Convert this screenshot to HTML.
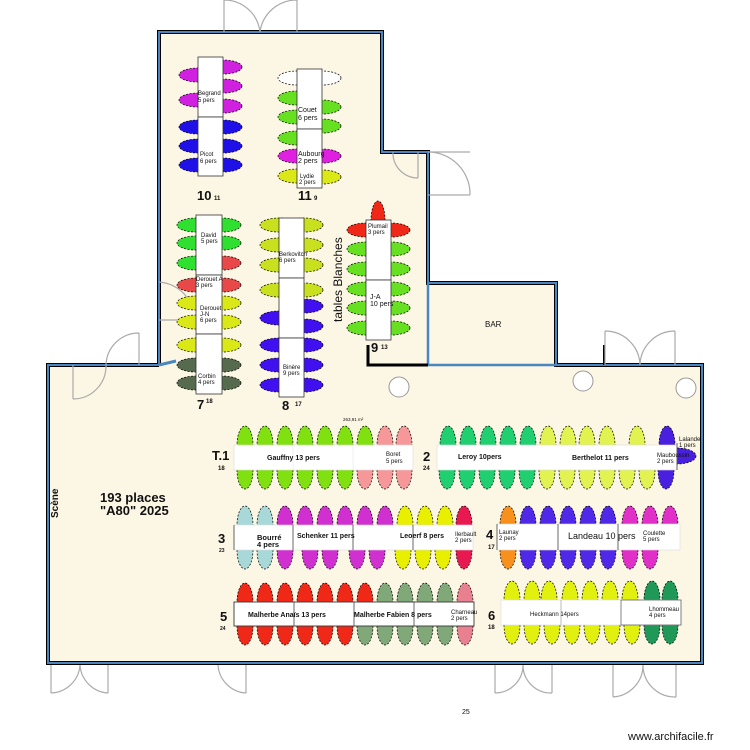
<!DOCTYPE html>
<html><head><meta charset="utf-8"><style>
html,body{margin:0;padding:0;background:#fff}
svg{display:block}
text{font-family:"Liberation Sans",sans-serif;fill:#111}
.c{stroke:#000;stroke-width:.7;stroke-dasharray:2 1.5}
.t{fill:#fff;stroke:#333;stroke-width:.8}
.d{fill:none;stroke:#aaa;stroke-width:1.2}
.s{font-size:6px}
.m{font-size:8px}
.b{font-weight:bold}
</style></head><body>
<svg width="750" height="750" viewBox="0 0 750 750" xmlns="http://www.w3.org/2000/svg">
<!-- floor -->
<polygon points="159,32 382,32 382,152 428,152 428,283 556,283 556,365 702,365 702,663 48,663 48,365 159,365" fill="#fcf6e4"/>
<!-- walls -->
<g fill="none" stroke-linejoin="miter">
<polyline points="159,365 159,32 382,32 382,152 428,152 428,283 556,283 556,365 702,365 702,663 48,663 48,365 159,365" stroke="#000" stroke-width="4"/>
<polyline points="159,365 159,32 382,32 382,152 428,152 428,283 556,283 556,365 702,365 702,663 48,663 48,365 159,365" stroke="#4a86c0" stroke-width="2"/>
<line x1="428" y1="365" x2="556" y2="365" stroke="#4a86c0" stroke-width="2.5"/>
<line x1="428" y1="283" x2="428" y2="365" stroke="#4a86c0" stroke-width="2.5"/>
<polyline points="368,345 368,365 428,365" stroke="#000" stroke-width="3"/>
<line x1="604" y1="345" x2="604" y2="365" stroke="#000" stroke-width="2"/>
<line x1="159" y1="365" x2="176" y2="361" stroke="#4a86c0" stroke-width="3"/>
</g>
<!-- pillars -->
<g fill="#fff" stroke="#999" stroke-width="1"><circle cx="399" cy="387" r="10"/><circle cx="583" cy="381" r="10"/><circle cx="686" cy="388" r="10"/></g>
<!-- doors -->
<g class="d">
<path d="M224,32 V0 M224,0 A36,36 0 0 1 260,32 M297,32 V0 M297,0 A37,37 0 0 0 260,32"/>
<path d="M428,152 H470 M470,195 H428 M470,195 A42,42 0 0 0 428,152"/>
<path d="M418,152 V178 M393,152 A25,25 0 0 0 418,178"/>
<path d="M139,333 V365 M139,333 A33,33 0 0 0 106,365 M73,399 V365 M73,399 A33,33 0 0 0 106,365"/>
<path d="M159,282 A38,38 0 0 1 190,302 M159,320 H190"/>
<path d="M605,331 V365 M605,331 A35,35 0 0 1 640,365 M675,331 V365 M675,331 A35,35 0 0 0 640,365"/>
<path d="M51,665 V693 M51,693 A30,30 0 0 0 80,665 M108,665 V693 M108,693 A30,30 0 0 1 80,665"/>
<path d="M246,665 V693 M246,693 A30,30 0 0 1 218,665"/>
<path d="M495,665 V693 M495,693 A28,28 0 0 0 523,665 M552,665 V693 M552,693 A28,28 0 0 1 523,665"/>
<path d="M613,665 V697 M613,697 A32,32 0 0 0 643,665 M676,665 V697 M676,697 A32,32 0 0 1 643,665"/>
</g>

<!-- Upper-wing chairs -->
<g class="c">
<!-- table 10 -->
<g fill="#d020e0"><ellipse cx="198" cy="75" rx="19" ry="7"/><ellipse cx="198" cy="100" rx="19" ry="7"/><ellipse cx="223" cy="67" rx="19" ry="7"/><ellipse cx="223" cy="86" rx="19" ry="7"/><ellipse cx="223" cy="106" rx="19" ry="7"/></g>
<g fill="#2010e8"><ellipse cx="198" cy="127" rx="19" ry="7"/><ellipse cx="198" cy="146" rx="19" ry="7"/><ellipse cx="198" cy="165" rx="19" ry="7"/><ellipse cx="223" cy="127" rx="19" ry="7"/><ellipse cx="223" cy="146" rx="19" ry="7"/><ellipse cx="223" cy="165" rx="19" ry="7"/></g>
<!-- table 11 -->
<g fill="#fff"><ellipse cx="297" cy="78" rx="19" ry="7"/><ellipse cx="322" cy="78" rx="19" ry="7"/></g>
<g fill="#66e020"><ellipse cx="297" cy="98" rx="19" ry="7"/><ellipse cx="297" cy="117" rx="19" ry="7"/><ellipse cx="297" cy="138" rx="19" ry="7"/><ellipse cx="322" cy="107" rx="19" ry="7"/><ellipse cx="322" cy="126" rx="19" ry="7"/></g>
<g fill="#e020e0"><ellipse cx="297" cy="156" rx="19" ry="7"/><ellipse cx="322" cy="156" rx="19" ry="7"/></g>
<g fill="#dbe818"><ellipse cx="297" cy="176" rx="19" ry="7"/><ellipse cx="322" cy="177" rx="19" ry="7"/></g>
<!-- table 7 -->
<g fill="#30e030"><ellipse cx="196" cy="225" rx="19" ry="7"/><ellipse cx="196" cy="243" rx="19" ry="7"/><ellipse cx="196" cy="263" rx="19" ry="7"/><ellipse cx="222" cy="225" rx="19" ry="7"/><ellipse cx="222" cy="243" rx="19" ry="7"/></g>
<g fill="#e84848"><ellipse cx="222" cy="263" rx="19" ry="7"/><ellipse cx="196" cy="285" rx="19" ry="7"/><ellipse cx="222" cy="285" rx="19" ry="7"/></g>
<g fill="#dbe818"><ellipse cx="196" cy="303" rx="19" ry="7"/><ellipse cx="196" cy="322" rx="19" ry="7"/><ellipse cx="222" cy="303" rx="19" ry="7"/><ellipse cx="222" cy="322" rx="19" ry="7"/><ellipse cx="196" cy="345" rx="19" ry="7"/><ellipse cx="222" cy="345" rx="19" ry="7"/></g>
<g fill="#566b4e"><ellipse cx="196" cy="365" rx="19" ry="7"/><ellipse cx="196" cy="383" rx="19" ry="7"/><ellipse cx="222" cy="365" rx="19" ry="7"/><ellipse cx="222" cy="383" rx="19" ry="7"/></g>
<!-- table 8 -->
<g fill="#c8e01e"><ellipse cx="279" cy="225" rx="19" ry="7"/><ellipse cx="279" cy="245" rx="19" ry="7"/><ellipse cx="279" cy="265" rx="19" ry="7"/><ellipse cx="279" cy="290" rx="19" ry="7"/><ellipse cx="304" cy="225" rx="19" ry="7"/><ellipse cx="304" cy="245" rx="19" ry="7"/><ellipse cx="304" cy="265" rx="19" ry="7"/><ellipse cx="304" cy="290" rx="19" ry="7"/></g>
<g fill="#4010f0"><ellipse cx="279" cy="318" rx="19" ry="7"/><ellipse cx="304" cy="306" rx="19" ry="7"/><ellipse cx="304" cy="326" rx="19" ry="7"/><ellipse cx="279" cy="345" rx="19" ry="7"/><ellipse cx="279" cy="365" rx="19" ry="7"/><ellipse cx="279" cy="385" rx="19" ry="7"/><ellipse cx="304" cy="345" rx="19" ry="7"/><ellipse cx="304" cy="365" rx="19" ry="7"/><ellipse cx="304" cy="385" rx="19" ry="7"/></g>
<!-- table 9 -->
<g fill="#f02818"><ellipse cx="378" cy="220" rx="7" ry="19"/><ellipse cx="366" cy="230" rx="19" ry="7"/><ellipse cx="391" cy="230" rx="19" ry="7"/></g>
<g fill="#66e020"><ellipse cx="366" cy="249" rx="19" ry="7"/><ellipse cx="366" cy="269" rx="19" ry="7"/><ellipse cx="366" cy="289" rx="19" ry="7"/><ellipse cx="366" cy="308" rx="19" ry="7"/><ellipse cx="366" cy="328" rx="19" ry="7"/><ellipse cx="391" cy="249" rx="19" ry="7"/><ellipse cx="391" cy="269" rx="19" ry="7"/><ellipse cx="391" cy="289" rx="19" ry="7"/><ellipse cx="391" cy="308" rx="19" ry="7"/><ellipse cx="391" cy="328" rx="19" ry="7"/></g>
</g>
<!-- upper tables -->
<rect class="t" x="198" y="57" width="25" height="60"/><rect class="t" x="198" y="117" width="25" height="59"/>
<rect class="t" x="297" y="69" width="25" height="60"/><rect class="t" x="297" y="129" width="25" height="59"/>
<rect class="t" x="196" y="215" width="26" height="60"/><rect class="t" x="196" y="275" width="26" height="59"/><rect class="t" x="196" y="334" width="26" height="60"/>
<rect class="t" x="279" y="218" width="25" height="60"/><rect class="t" x="279" y="278" width="25" height="60"/><rect class="t" x="279" y="338" width="25" height="59"/>
<rect class="t" x="366" y="220" width="25" height="60"/><rect class="t" x="366" y="280" width="25" height="60"/>
<g class="s">
<text x="198" y="95">Begrand</text><text x="198" y="102">5 pers</text>
<text x="200" y="156">Picot</text><text x="200" y="163">6 pers</text>
<text x="298" y="112" class="m" style="font-size:7px">Couet</text><text x="298" y="120" style="font-size:7px">6 pers</text>
<text x="298" y="156" style="font-size:7px">Aubourg</text><text x="298" y="163" style="font-size:7px">2 pers</text>
<text x="300" y="178">Lydie</text><text x="299" y="184">2 pers</text>
<text x="201" y="237">David</text><text x="201" y="243">5 pers</text>
<text x="196" y="281">Derouet A</text><text x="196" y="287">3 pers</text>
<text x="200" y="310">Derouet</text><text x="200" y="316">J-N</text><text x="200" y="322">6 pers</text>
<text x="198" y="378">Corbin</text><text x="198" y="384">4 pers</text>
<text x="279" y="256">Berkovitch</text><text x="279" y="262">6 pers</text>
<text x="283" y="369">Binère</text><text x="283" y="375">9 pers</text>
<text x="368" y="228">Plumail</text><text x="368" y="234">3 pers</text>
<text x="370" y="299" style="font-size:7px">J-A</text><text x="370" y="306" style="font-size:7px">10 pers</text>
</g>
<g class="b">
<text x="197" y="200" font-size="13">10</text><text x="214" y="200" font-size="6">11</text>
<text x="298" y="200" font-size="13">11</text><text x="314" y="200" font-size="6">9</text>
<text x="197" y="409" font-size="13">7</text><text x="206" y="403" font-size="6">18</text>
<text x="282" y="410" font-size="13">8</text><text x="295" y="406" font-size="6">17</text>
<text x="371" y="352" font-size="13">9</text><text x="381" y="349" font-size="6">13</text>
</g>
<text transform="translate(342,322) rotate(-90)" font-size="12">tables Blanches</text>
<text x="485" y="327" font-size="8">BAR</text>
<text x="343" y="421" font-size="4.5" fill="#555">263,91 m²</text>

<!-- Main room chairs -->
<g class="c">
<!-- T.1 -->
<g fill="#80e010"><ellipse cx="245" cy="445" rx="8" ry="19"/><ellipse cx="265" cy="445" rx="8" ry="19"/><ellipse cx="285" cy="445" rx="8" ry="19"/><ellipse cx="305" cy="445" rx="8" ry="19"/><ellipse cx="325" cy="445" rx="8" ry="19"/><ellipse cx="345" cy="445" rx="8" ry="19"/><ellipse cx="365" cy="445" rx="8" ry="19"/>
<ellipse cx="245" cy="470" rx="8" ry="19"/><ellipse cx="265" cy="470" rx="8" ry="19"/><ellipse cx="285" cy="470" rx="8" ry="19"/><ellipse cx="305" cy="470" rx="8" ry="19"/><ellipse cx="325" cy="470" rx="8" ry="19"/><ellipse cx="345" cy="470" rx="8" ry="19"/></g>
<g fill="#f6989a"><ellipse cx="385" cy="445" rx="8" ry="19"/><ellipse cx="404" cy="445" rx="8" ry="19"/><ellipse cx="365" cy="470" rx="8" ry="19"/><ellipse cx="385" cy="470" rx="8" ry="19"/><ellipse cx="404" cy="470" rx="8" ry="19"/></g>
<!-- T.2 -->
<g fill="#20d070"><ellipse cx="448" cy="445" rx="8" ry="19"/><ellipse cx="468" cy="445" rx="8" ry="19"/><ellipse cx="488" cy="445" rx="8" ry="19"/><ellipse cx="508" cy="445" rx="8" ry="19"/><ellipse cx="528" cy="445" rx="8" ry="19"/>
<ellipse cx="447" cy="470" rx="8" ry="19"/><ellipse cx="467" cy="470" rx="8" ry="19"/><ellipse cx="487" cy="470" rx="8" ry="19"/><ellipse cx="507" cy="470" rx="8" ry="19"/><ellipse cx="527" cy="470" rx="8" ry="19"/></g>
<g fill="#e2f250"><ellipse cx="548" cy="445" rx="8" ry="19"/><ellipse cx="568" cy="445" rx="8" ry="19"/><ellipse cx="587" cy="445" rx="8" ry="19"/><ellipse cx="607" cy="445" rx="8" ry="19"/><ellipse cx="637" cy="445" rx="8" ry="19"/>
<ellipse cx="547" cy="470" rx="8" ry="19"/><ellipse cx="567" cy="470" rx="8" ry="19"/><ellipse cx="587" cy="470" rx="8" ry="19"/><ellipse cx="607" cy="470" rx="8" ry="19"/><ellipse cx="627" cy="470" rx="8" ry="19"/><ellipse cx="647" cy="470" rx="8" ry="19"/></g>
<g fill="#4a20e0"><ellipse cx="667" cy="445" rx="8" ry="19"/><ellipse cx="666" cy="470" rx="8" ry="19"/><ellipse cx="677" cy="456" rx="19" ry="8"/></g>
<!-- T.3 -->
<g fill="#a8d8d8"><ellipse cx="245" cy="525" rx="8" ry="19"/><ellipse cx="265" cy="525" rx="8" ry="19"/><ellipse cx="245" cy="550" rx="8" ry="19"/><ellipse cx="265" cy="550" rx="8" ry="19"/></g>
<g fill="#d030d0"><ellipse cx="285" cy="525" rx="8" ry="19"/><ellipse cx="305" cy="525" rx="8" ry="19"/><ellipse cx="325" cy="525" rx="8" ry="19"/><ellipse cx="345" cy="525" rx="8" ry="19"/><ellipse cx="365" cy="525" rx="8" ry="19"/><ellipse cx="385" cy="525" rx="8" ry="19"/>
<ellipse cx="285" cy="550" rx="8" ry="19"/><ellipse cx="310" cy="550" rx="8" ry="19"/><ellipse cx="330" cy="550" rx="8" ry="19"/><ellipse cx="357" cy="550" rx="8" ry="19"/><ellipse cx="377" cy="550" rx="8" ry="19"/></g>
<g fill="#e8f000"><ellipse cx="405" cy="525" rx="8" ry="19"/><ellipse cx="425" cy="525" rx="8" ry="19"/><ellipse cx="445" cy="525" rx="8" ry="19"/><ellipse cx="403" cy="550" rx="8" ry="19"/><ellipse cx="423" cy="550" rx="8" ry="19"/><ellipse cx="443" cy="550" rx="8" ry="19"/></g>
<g fill="#e81850"><ellipse cx="464" cy="525" rx="8" ry="19"/><ellipse cx="464" cy="550" rx="8" ry="19"/></g>
<!-- T.4 -->
<g fill="#f8901c"><ellipse cx="508" cy="525" rx="8" ry="19"/><ellipse cx="508" cy="550" rx="8" ry="19"/></g>
<g fill="#5028e8"><ellipse cx="528" cy="525" rx="8" ry="19"/><ellipse cx="548" cy="525" rx="8" ry="19"/><ellipse cx="568" cy="525" rx="8" ry="19"/><ellipse cx="588" cy="525" rx="8" ry="19"/><ellipse cx="608" cy="525" rx="8" ry="19"/>
<ellipse cx="528" cy="550" rx="8" ry="19"/><ellipse cx="548" cy="550" rx="8" ry="19"/><ellipse cx="568" cy="550" rx="8" ry="19"/><ellipse cx="588" cy="550" rx="8" ry="19"/><ellipse cx="608" cy="550" rx="8" ry="19"/></g>
<g fill="#e030c8"><ellipse cx="630" cy="525" rx="8" ry="19"/><ellipse cx="650" cy="525" rx="8" ry="19"/><ellipse cx="670" cy="525" rx="8" ry="19"/><ellipse cx="630" cy="550" rx="8" ry="19"/><ellipse cx="650" cy="550" rx="8" ry="19"/></g>
<!-- T.5 -->
<g fill="#f02818"><ellipse cx="245" cy="602" rx="8" ry="19"/><ellipse cx="265" cy="602" rx="8" ry="19"/><ellipse cx="285" cy="602" rx="8" ry="19"/><ellipse cx="305" cy="602" rx="8" ry="19"/><ellipse cx="325" cy="602" rx="8" ry="19"/><ellipse cx="345" cy="602" rx="8" ry="19"/><ellipse cx="365" cy="602" rx="8" ry="19"/>
<ellipse cx="245" cy="626" rx="8" ry="19"/><ellipse cx="265" cy="626" rx="8" ry="19"/><ellipse cx="285" cy="626" rx="8" ry="19"/><ellipse cx="305" cy="626" rx="8" ry="19"/><ellipse cx="325" cy="626" rx="8" ry="19"/><ellipse cx="345" cy="626" rx="8" ry="19"/></g>
<g fill="#80a878"><ellipse cx="385" cy="602" rx="8" ry="19"/><ellipse cx="405" cy="602" rx="8" ry="19"/><ellipse cx="425" cy="602" rx="8" ry="19"/><ellipse cx="445" cy="602" rx="8" ry="19"/>
<ellipse cx="365" cy="626" rx="8" ry="19"/><ellipse cx="385" cy="626" rx="8" ry="19"/><ellipse cx="405" cy="626" rx="8" ry="19"/><ellipse cx="425" cy="626" rx="8" ry="19"/><ellipse cx="445" cy="626" rx="8" ry="19"/></g>
<g fill="#e88090"><ellipse cx="465" cy="602" rx="8" ry="19"/><ellipse cx="465" cy="626" rx="8" ry="19"/></g>
<!-- T.6 -->
<g fill="#e2f010"><ellipse cx="512" cy="600" rx="8" ry="19"/><ellipse cx="532" cy="600" rx="8" ry="19"/><ellipse cx="549" cy="600" rx="8" ry="19"/><ellipse cx="570" cy="600" rx="8" ry="19"/><ellipse cx="590" cy="600" rx="8" ry="19"/><ellipse cx="610" cy="600" rx="8" ry="19"/><ellipse cx="630" cy="600" rx="8" ry="19"/>
<ellipse cx="512" cy="625" rx="8" ry="19"/><ellipse cx="532" cy="625" rx="8" ry="19"/><ellipse cx="552" cy="625" rx="8" ry="19"/><ellipse cx="572" cy="625" rx="8" ry="19"/><ellipse cx="592" cy="625" rx="8" ry="19"/><ellipse cx="612" cy="625" rx="8" ry="19"/><ellipse cx="632" cy="625" rx="8" ry="19"/></g>
<g fill="#209858"><ellipse cx="652" cy="600" rx="8" ry="19"/><ellipse cx="670" cy="600" rx="8" ry="19"/><ellipse cx="652" cy="625" rx="8" ry="19"/><ellipse cx="670" cy="625" rx="8" ry="19"/></g>
</g>

<!-- Main tables -->
<g fill="#fff" stroke="#ddd" stroke-width=".6">
<rect x="234" y="445" width="179" height="25"/><rect x="437" y="445" width="240" height="25"/>
<rect x="234" y="525" width="239" height="25"/><rect x="497" y="524" width="183" height="26"/>
<rect x="234" y="602" width="240" height="24"/><rect x="501" y="600" width="180" height="25"/>
</g>
<g stroke="#444" stroke-width=".8" fill="none">
<line x1="234" y1="525" x2="234" y2="550"/><line x1="293" y1="525" x2="293" y2="550"/><line x1="353" y1="525" x2="353" y2="550"/><line x1="413" y1="525" x2="413" y2="550"/>
<line x1="497" y1="524" x2="497" y2="550"/><line x1="558" y1="524" x2="558" y2="550"/><line x1="618" y1="524" x2="618" y2="550"/>
<rect x="234" y="602" width="240" height="24" stroke="#222"/><line x1="294" y1="602" x2="294" y2="626"/><line x1="354" y1="602" x2="354" y2="626"/><line x1="414" y1="602" x2="414" y2="626"/>
<line x1="561" y1="600" x2="561" y2="625" stroke="#aaa"/><rect x="621" y="600" width="60" height="25" stroke="#666"/>
<line x1="677" y1="443" x2="677" y2="470"/>
<line x1="293" y1="445" x2="293" y2="470" stroke="#eee"/><line x1="353" y1="445" x2="353" y2="470" stroke="#eee"/>
</g>
<g class="s">
<text x="267" y="460" font-size="7" class="b">Gauffny 13 pers</text>
<text x="386" y="456">Boret</text><text x="386" y="463">5 pers</text>
<text x="458" y="459" font-size="7" class="b">Leroy  10pers</text>
<text x="572" y="460" font-size="7" class="b">Berthelot 11 pers</text>
<text x="657" y="457">Mauboussin</text><text x="657" y="463">2 pers</text>
<text x="679" y="441">Lalande</text><text x="679" y="447">1 pers</text>
<text x="257" y="540" font-size="7.5" class="b">Bourré</text><text x="257" y="547" font-size="7.5" class="b">4 pers</text>
<text x="297" y="538" font-size="7" class="b">Schenker 11 pers</text>
<text x="400" y="538" font-size="7" class="b">Leoerf 8 pers</text>
<text x="455" y="536">Ilerbault</text><text x="455" y="542">2 pers</text>
<text x="499" y="534">Launay</text><text x="499" y="540">2 pers</text>
<text x="568" y="539" font-size="9">Landeau 10 pers</text>
<text x="643" y="535">Coulette</text><text x="643" y="541">5 pers</text>
<text x="248" y="617" font-size="7" class="b">Malherbe Anaïs  13 pers</text>
<text x="354" y="617" font-size="7" class="b">Malherbe Fabien 8 pers</text>
<text x="451" y="614">Charneau</text><text x="451" y="620">2 pers</text>
<text x="530" y="616">Heckmann 14pers</text>
<text x="649" y="611">Lhommeau</text><text x="649" y="617">4 pers</text>
</g>
<g class="b">
<text x="212" y="460" font-size="13">T.1</text><text x="218" y="470" font-size="6">18</text>
<text x="423" y="461" font-size="13">2</text><text x="423" y="470" font-size="6">24</text>
<text x="218" y="543" font-size="13">3</text><text x="219" y="552" font-size="5">23</text>
<text x="486" y="539" font-size="13">4</text><text x="488" y="549" font-size="6">17</text>
<text x="220" y="621" font-size="13">5</text><text x="220" y="630" font-size="5">24</text>
<text x="488" y="620" font-size="13">6</text><text x="488" y="629" font-size="6">18</text>
</g>
<text x="100" y="502" font-size="13" class="b">193 places</text>
<text x="100" y="515" font-size="13" class="b">"A80" 2025</text>
<text transform="translate(58,518) rotate(-90)" font-size="10" class="b">Scène</text>
<text x="462" y="714" font-size="7" fill="#333">25</text>
<text x="628" y="740" font-size="11" fill="#222">www.archifacile.fr</text>
</svg>
</body></html>
